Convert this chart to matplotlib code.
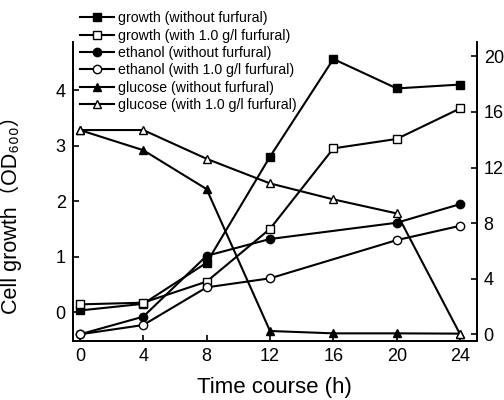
import matplotlib
matplotlib.use('Agg')
import matplotlib.pyplot as plt

plt.rcParams['font.family'] = ['Liberation Sans', 'DejaVu Sans', 'Noto Sans CJK SC']

# time points (h)
t = [0, 4, 8, 12, 16, 20, 24]
t_eth = [0, 4, 8, 12, 20, 24]

# cell growth, OD600 (left axis)
growth_no = [0.03, 0.15, 0.89, 2.80, 4.56, 4.03, 4.10]
growth_fur = [0.14, 0.17, 0.55, 1.50, 2.95, 3.12, 3.67]

# ethanol and glucose, g/l (right axis)
ethanol_no = [0.0, 1.27, 5.65, 6.86, 8.03, 9.37]
ethanol_fur = [0.0, 0.67, 3.38, 4.03, 6.78, 7.81]
glucose_no = [14.7, 13.25, 10.45, 0.24, 0.07, 0.07, 0.05]
glucose_fur = [14.7, 14.7, 12.63, 10.86, 9.71, 8.70, 0.0]

fig = plt.figure(figsize=(5.04, 4.0), dpi=100)
ax = fig.add_axes([0.144, 0.1475, 0.802, 0.748])
ax2 = ax.twinx()

lw = 1.5
ms = 6
h1, = ax.plot(t, growth_no, '-s', color='black', lw=lw, ms=ms - 0.5, mfc='black', mec='black')
h2, = ax.plot(t, growth_fur, '-s', color='black', lw=lw, ms=ms - 0.5, mfc='white', mec='black')
h3, = ax2.plot(t_eth, ethanol_no, '-o', color='black', lw=lw, ms=ms, mfc='black', mec='black')
h4, = ax2.plot(t_eth, ethanol_fur, '-o', color='black', lw=lw, ms=ms, mfc='white', mec='black')
h5, = ax2.plot(t, glucose_no, '-^', color='black', lw=lw, ms=ms, mfc='black', mec='black')
h6, = ax2.plot(t, glucose_fur, '-^', color='black', lw=lw, ms=ms, mfc='white', mec='black')

ax.set_xlim(-0.46, 25.05)
ax.set_ylim(-0.52, 4.87)
ax2.set_ylim(-0.48, 21.05)
ax.set_xticks(t)
ax.set_yticks([0, 1, 2, 3, 4])
ax2.set_yticks([0, 4, 8, 12, 16, 20])

for a in (ax, ax2):
    a.spines['top'].set_visible(False)
    for s in ('left', 'right', 'bottom'):
        a.spines[s].set_linewidth(1.3)
    a.tick_params(direction='in', length=4, width=1.2, labelsize=13, pad=5)

ax.set_xlabel('Time course (h)', fontsize=16, labelpad=9)
ax.set_ylabel('Cell growth（OD₆₀₀）', fontsize=15.5)
ax.yaxis.set_label_coords(-0.125, 0.44)

labels = ['growth (without furfural)', 'growth (with 1.0 g/l furfural)',
          'ethanol (without furfural)', 'ethanol (with 1.0 g/l furfural)',
          'glucose (without furfural)', 'glucose (with 1.0 g/l furfural)']
ax2.legend([h1, h2, h3, h4, h5, h6], labels, loc='upper left',
           bbox_to_anchor=(0.159, 0.972), bbox_transform=fig.transFigure,
           frameon=False, fontsize=10.2, handlelength=2.4, handletextpad=0.3,
           labelspacing=0.24, borderpad=0, borderaxespad=0)

fig.savefig('out.png', dpi=100)
